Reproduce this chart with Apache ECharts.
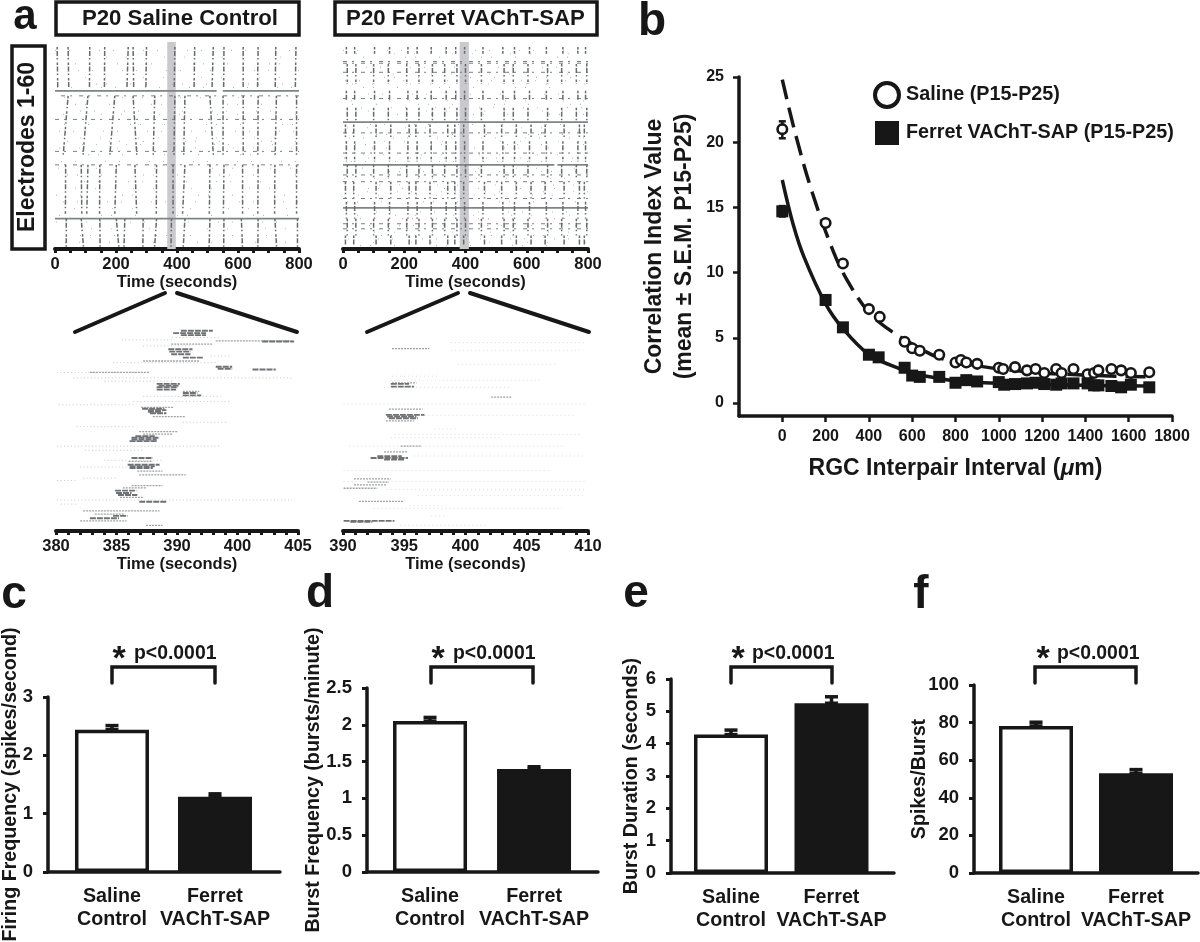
<!DOCTYPE html>
<html><head><meta charset="utf-8">
<style>html,body{margin:0;padding:0;background:#fff}#c{width:1200px;height:942px}</style>
<script src="https://cdn.jsdelivr.net/npm/echarts@6/dist/echarts.min.js"></script>
</head><body><div id="c"></div>
<script>
// ---------- DATA: panel b ----------
const salinePoints=[[0,21],[200,13.8],[280,10.7],[400,7.2],[450,6.6],[565,4.7],[600,4.2],[635,4.0],[725,3.7],[800,3.1],[825,3.3],[850,3.1],[900,3.0],[1000,2.7],[1020,2.6],[1075,2.75],[1130,2.5],[1170,2.6],[1210,2.3],[1265,2.6],[1290,2.3],[1345,2.6],[1410,2.2],[1440,2.3],[1460,2.5],[1520,2.6],[1565,2.5],[1610,2.3],[1695,2.35]];
const ferretPoints=[[0,14.7],[200,7.9],[280,5.8],[400,3.7],[445,3.5],[565,2.7],[600,2.1],[635,2.0],[725,2.0],[800,1.55],[850,1.75],[900,1.65],[1000,1.6],[1025,1.4],[1075,1.45],[1130,1.5],[1170,1.55],[1210,1.45],[1265,1.4],[1290,1.5],[1345,1.5],[1410,1.5],[1440,1.35],[1460,1.35],[1520,1.3],[1565,1.2],[1610,1.4],[1695,1.2]];
const salineFit=[[0,24.8],[58,20.8],[139,16.1],[236,11.6],[300,9.4],[397,7.0],[495,5.6],[624,4.3],[720,3.5],[882,2.9],[1125,2.4],[1448,2.1],[1690,2.0]];
const ferretFit=[[0,17.1],[50,13.7],[100,11.2],[200,7.6],[280,5.7],[400,3.7],[500,2.9],[600,2.3],[700,1.95],[800,1.7],[1000,1.5],[1200,1.4],[1400,1.35],[1690,1.3]];
const salineZeroError=[0,20.3,21.6];
const ferretZeroError=[0,14.3,15.1];
const bTicksX=[0,200,400,600,800,1000,1200,1400,1600,1800];
const bTicksY=[0,5,10,15,20,25];

// ---------- DATA: bar panels c-f ----------
const barCategories=['Saline\nControl','Ferret\nVAChT-SAP'];
const firingFrequency=[2.44,1.29], firingFrequencyTop=[2.51,1.34];
const burstFrequency=[2.05,1.40], burstFrequencyTop=[2.10,1.43];
const burstDuration=[4.28,5.25], burstDurationTop=[4.42,5.45];
const spikesPerBurst=[78.2,53], spikesPerBurstTop=[80.2,55];

// ---------- DATA: overview rasters (seconds, electrode) ----------
const overviewLabels=[0,200,400,600,800];
const overviewMinor=[0,50,100,150,200,250,300,350,400,450,500,550,600,650,700,750,800];
const salineBand=[368,396], ferretBand=[381,411];
const salineBlock1=[[7,9],[43,45],[114,113],[163,162],[240,236],[256,258],[300,298],[393,391],[458,456],[519,515],[554,553],[617,617],[666,664],[724,722],[790,788]];
const salineBlock2=[[43,27],[108,92],[196,180],[256,268],[327,322],[393,390],[426,422],[508,519],[551,551],[617,617],[666,665],[726,722],[792,792]];
const salineBlock3=[[35,34],[86,88],[108,104],[147,146],[201,196],[262,268],[333,332],[387,387],[426,418],[508,506],[554,552],[615,615],[666,665],[721,720],[792,792]];
const salineBlock4=[[37,37],[86,94],[147,148],[201,210],[229,226],[289,288],[333,326],[382,380],[426,420],[508,505],[554,553],[611,615],[666,665],[721,727],[795,795]];
const salineSolidRows=[[14,0,530],[14,550,800],[52,0,800]];
const salineDashRows=[[22.5,0,800],[32,0,800],[36,0,370],[36,380,800],[15.5,20,800]];
const salineDotRows=[2,4,6,8,10,12,13,16,18,20,21,24,26,28,29,30,31,33,35,37,39,41,43,45,47,49,51,53,55,57,59];

const ferretTimesA=[11,38,103,152,212,242,288,337,368,397,457,522,560,609,664,718,767,792];
const ferretTimesB=[14,42,100,148,208,248,292,332,372,400,452,526,556,604,668,714,762,796];
const ferretTimesC=[8,35,108,156,216,238,284,342,365,394,462,518,566,614,660,722,772,788];
const ferretBlocksA=[[1,3],[14,17],[29,35],[47,52]];
const ferretBlocksB=[[6,12],[19,23],[36,40],[52,57]];
const ferretBlocksC=[[24,28],[41,46],[57,60]];
const ferretSolidRows=[[23.3,0,800],[36,0,690],[36,700,800],[48.8,0,800]];
const ferretDashRows=[[5.3,0,800],[5.8,0,800],[8.5,0,800],[16.3,0,800],[26.5,0,800],[32.5,0,800],[39,0,800],[41,0,800],[46,0,800],[53.5,0,800],[55,0,800]];
const ferretDotRows=[2,3,4,7,9,10,11,12,13,15,17,18,19,20,21,24,25,27,28,29,30,31,33,34,35,37,38,40,42,43,44,45,47,50,51,52,54,56,57,58,59,60];

// ---------- DATA: expanded rasters ----------
const zoomLabelsSaline=['380','385','390','400','405'];
const zoomPositionsSaline=[380,386.25,392.5,398.75,405];
const zoomMinorSaline=[380,381.25,382.5,383.75,385,386.25,387.5,388.75,390,391.25,392.5,393.75,395,396.25,397.5,398.75,400,401.25,402.5,403.75,405];
const zoomLabelsFerret=['390','395','400','405','410'];
const zoomPositionsFerret=[390,395,400,405,410];
const zoomMinorFerret=[390,391,392,393,394,395,396,397,398,399,400,401,402,403,404,405,406,407,408,409,410];
const zoomSalineDark=[[392.9,396.2,1.5],[392.1,395.5,2.2],[392.9,395.5,2.8],[401.3,404.6,4.7],[391.6,394.1,7],[391.7,393.9,7.7],[391.9,393.9,8.5],[393.1,395.2,9.5],[396.5,398.2,12.2],[396.7,398.2,12.8],[400.3,402.7,13],[390.4,392.8,17.3],[390.4,392.6,18.3],[390.4,392.4,19],[390.6,392.7,17.8],[393.1,395,20.7],[393.1,394.6,20],[389.5,391.4,25.1],[389.7,391.4,26],[389.5,391,25.6],[388.9,391.2,24.7],[387.8,390.7,33.3],[387.6,390.4,34.3],[387.8,390.4,33.8],[388.2,390.2,32.8],[387.8,390,39.3],[387.4,390.7,41.3],[387.6,390,42.3],[387.6,390.2,41.8],[386.1,388.3,49],[386.2,387.8,49.7],[386.4,388.4,50.3],[388.6,391.4,52.3],[385.9,387.4,56.5],[383.5,386.5,57.2]];
const zoomSalineMid=[[391.9,396.2,5.5],[396.5,404.4,4.5],[389,394.8,10.5],[383.5,389.7,13.9],[393.1,394.8,19.5],[388.8,392.1,24.3],[390,393.4,27],[389,392.1,32.2],[388.6,392.6,31.5],[388.6,393.4,44.3],[387.8,391,47.5],[386.6,389,51],[382.8,390.7,55],[382.5,387.3,58],[389.3,391,59.3],[388.4,391,43.2],[387.5,390,40.3],[386.9,389.4,48.2],[384,387,56]];
const zoomSalineLight=[[386.8,392.1,4.2],[385.9,396.5,11],[380.1,389.7,13.9],[381.8,404.4,15.5],[388,397.9,22.5],[380.3,388,23.5],[393.1,397.6,28.7],[382.1,388,30],[380.1,396.9,35.8],[382.5,387.3,42],[382.8,386.2,45.3],[380.1,404.4,51.8],[380.1,382,46],[380.5,382.2,53],[389,394,6],[392,397,3.5],[396,398,9],[385,392,16.5],[389,397,21],[383,389,37],[385,391,40]];
const zoomFerretDark=[[393.9,395.8,18.1],[393.9,395.4,17.3],[393.5,396.65,26.5],[393.75,396.1,27.5],[393.6,396,27],[392.25,395.3,39.3],[393.35,395,39.8],[392.8,394.8,38.8],[390.05,394.2,58],[390.6,392.4,58.3]];
const zoomFerretMid=[[394,397.05,6.8],[402.1,403.8,21.2],[393.75,396.5,24.8],[393.5,395.8,28.3],[394.7,396.4,35.8],[393.35,395.3,37.5],[390.9,393.9,45.5],[392,393.75,46.5],[390.9,393.6,47.3],[390.05,392.8,48.3],[391.3,395,52.2],[394,396,17]];
const zoomFerretLight=[[398.8,409.8,5],[398.8,409.5,7.3],[399.4,407.35,11.5],[394,397.75,15],[393.9,406.25,16.2],[393.35,403.6,18.3],[390.05,409.8,23.3],[396.65,409,26.7],[397.45,399.4,30.7],[394.2,409.5,32.3],[393.9,402.95,33.3],[390.5,408.15,35.8],[395.8,409.8,38.7],[390.05,407.05,43],[390.05,409.8,46.3],[393.6,409.8,48.7],[396.1,409.8,50.5],[395.4,398.3,53.5],[392.5,407.9,54.3],[397.2,398.3,56.5],[394.7,401.85,59.3]];

// ---------- rendering config ----------
const INK='#171717', FONT='"Liberation Sans",Arial,sans-serif';
const tones=[
 {c:'#666b6c',w:1.5,d:[2.5,1.5,5,2,1.5,3]},   // wavefront
 {c:'#7d8587',w:1.7,d:null},      // persistent row
 {c:'#7a7f80',w:1,d:[4,5,2,7]},   // dashed row
 {c:'#b4b6b6',w:1,d:[1,13,1,29]}, // sparse rows
 {c:'#6f7274',w:1.9,d:[6,1]},     // zoom dark
 {c:'#a0a2a4',w:1.3,d:[2,1]},     // zoom mid
 {c:'#c8c8c8',w:1,d:[1,2.5]},     // zoom light
 {c:'#dcdcdc',w:1,d:[1,3]},       // zoom faint
 {c:'#bcbebe',w:1,d:[1,19,1,37]}, // sparser rows
 {c:'#aaacac',w:1,d:[1,9,1,23,1,41]} // mixed rows
];
const dotTones=[3,8,9];
function wave(list,e0,e1){return list.map(p=>[p[0],e0,p[1],e1,0,0]);}
function rows(list,t){return list.map(r=>[r[1],r[0],r[2],r[0],t,0]);}
function dots(list,a,b){return list.map((e,k)=>[a,e,b,e,dotTones[k%3],k*7]);}
function zrows(list,t){return list.map(r=>[r[0],r[2],r[1],r[2],t,0]);}
function blocks(times,bs){const out=[];bs.forEach(b=>times.forEach(t=>out.push([t,b[0],t,b[1],0,0])));return out;}

const salineSegs=[].concat(dots(salineDotRows,0,800),rows(salineDashRows,2),rows(salineSolidRows,1),
 wave(salineBlock1,1,13),wave(salineBlock2,15.5,33),wave(salineBlock3,36,51),wave(salineBlock4,52,61));
const ferretSegs=[].concat(dots(ferretDotRows,0,800),rows(ferretDashRows,2),rows(ferretSolidRows,1),
 blocks(ferretTimesA,ferretBlocksA),blocks(ferretTimesB,ferretBlocksB),blocks(ferretTimesC,ferretBlocksC));
const zoomSalineSegs=[].concat(zrows(zoomSalineLight,6),zrows(zoomSalineMid,5),zrows(zoomSalineDark,4));
const zoomFerretSegs=[].concat(zrows(zoomFerretLight,7),zrows(zoomFerretMid,5),zrows(zoomFerretDark,4));

function rasterItem(params,api){
  const a=api.coord([api.value(0),api.value(1)]),b=api.coord([api.value(2),api.value(3)]),t=tones[api.value(4)];
  return {type:'line',shape:{x1:a[0],y1:a[1],x2:b[0],y2:b[1]},style:{stroke:t.c,lineWidth:t.w,lineDash:t.d,lineDashOffset:api.value(5),fill:null}};
}
function bandItem(params,api){
  const a=api.coord([api.value(0),0]),b=api.coord([api.value(1),0]),s=params.coordSys;
  return {type:'rect',shape:{x:a[0],y:s.y,width:b[0]-a[0],height:s.height},style:{fill:'#c9c9ce'}};
}
function errItem(capW,lw){return function(params,api){
  const x=api.value(0),lo=api.coord([x,api.value(1)]),hi=api.coord([x,api.value(2)]);
  const st={stroke:INK,lineWidth:lw,fill:null};
  return {type:'group',children:[
   {type:'line',shape:{x1:lo[0],y1:lo[1],x2:hi[0],y2:hi[1]},style:st},
   {type:'line',shape:{x1:hi[0]-capW/2,y1:hi[1],x2:hi[0]+capW/2,y2:hi[1]},style:st},
   {type:'line',shape:{x1:lo[0]-capW/2,y1:lo[1],x2:lo[0]+capW/2,y2:lo[1]},style:st}]};
};}

const grid=[],xAxis=[],yAxis=[],series=[];
function addGrid(box){grid.push({left:box[0],top:box[1],width:box[2],height:box[3],outerBoundsMode:'none'});}
function rasterPanel(box,xmin,xmax,labelPos,labelText,minor,segs,band){
  const i=grid.length;
  addGrid(box);
  xAxis.push({gridIndex:i,type:'value',min:xmin,max:xmax,name:'Time (seconds)',nameLocation:'middle',nameGap:25,
    nameTextStyle:{color:INK,fontFamily:FONT,fontWeight:'bold',fontSize:16.5},
    axisLine:{show:true,onZero:false,lineStyle:{color:INK,width:4}},
    axisTick:{show:true,customValues:minor,length:4,lineStyle:{color:INK,width:3}},
    splitLine:{show:false},
    axisLabel:{customValues:labelPos,margin:7,color:INK,fontFamily:FONT,fontWeight:'bold',fontSize:16.5,
      formatter:v=>labelText[labelPos.indexOf(v)]}});
  yAxis.push({gridIndex:i,type:'value',min:-0.5,max:61,inverse:true,show:false});
  if(band) series.push({type:'custom',xAxisIndex:i,yAxisIndex:i,silent:true,renderItem:bandItem,data:[band],encode:{x:[0,1]},z:1});
  series.push({type:'custom',xAxisIndex:i,yAxisIndex:i,silent:true,renderItem:rasterItem,data:segs,encode:{x:[0,2],y:[1,3]},z:2});
}
rasterPanel([55,42,244,207],0,800,overviewLabels,overviewLabels.map(String),overviewMinor,salineSegs,salineBand);
rasterPanel([343,42,245,207],0,800,overviewLabels,overviewLabels.map(String),overviewMinor,ferretSegs,ferretBand);
rasterPanel([56,324,242,207],380,405,zoomPositionsSaline,zoomLabelsSaline,zoomMinorSaline,zoomSalineSegs,null);
rasterPanel([343,324,245,207],390,410,zoomPositionsFerret,zoomLabelsFerret,zoomMinorFerret,zoomFerretSegs,null);

// panel b
(function(){
  const i=grid.length;
  addGrid([739,77,433,339]);
  xAxis.push({gridIndex:i,type:'value',min:-200,max:1800,name:'RGC Interpair Interval ({i|μ}m)',nameLocation:'middle',nameGap:41,
    nameTextStyle:{color:INK,fontFamily:FONT,fontWeight:'bold',fontSize:23,rich:{i:{color:INK,fontFamily:FONT,fontWeight:'bold',fontStyle:'italic',fontSize:23}}},
    axisLine:{show:true,onZero:false,lineStyle:{color:INK,width:3.5}},
    axisTick:{show:true,customValues:bTicksX,length:6,lineStyle:{color:INK,width:2.5}},splitLine:{show:false},
    axisLabel:{customValues:bTicksX,margin:13,color:INK,fontFamily:FONT,fontWeight:'bold',fontSize:16,formatter:v=>String(v)}});
  yAxis.push({gridIndex:i,type:'value',min:-1,max:25,name:'Correlation Index Value\n(mean ± S.E.M. P15-P25)',nameLocation:'middle',nameGap:39,nameMoveOverlap:false,
    nameTextStyle:{color:INK,fontFamily:FONT,fontWeight:'bold',fontSize:23,lineHeight:30},
    axisLine:{show:true,onZero:false,lineStyle:{color:INK,width:3.5}},
    axisTick:{show:true,customValues:bTicksY,length:6,lineStyle:{color:INK,width:2.5}},splitLine:{show:false},
    axisLabel:{customValues:bTicksY,margin:15,color:INK,fontFamily:FONT,fontWeight:'bold',fontSize:16}});
  series.push({type:'line',name:'Saline fit',xAxisIndex:i,yAxisIndex:i,data:salineFit,smooth:0.35,symbol:'none',lineStyle:{color:INK,width:3.5,type:[20,9]},z:3});
  series.push({type:'line',name:'Ferret fit',xAxisIndex:i,yAxisIndex:i,data:ferretFit,smooth:0.35,symbol:'none',lineStyle:{color:INK,width:3.5},z:3});
  series.push({type:'custom',xAxisIndex:i,yAxisIndex:i,silent:true,renderItem:errItem(7,2.5),data:[salineZeroError,ferretZeroError],encode:{x:0,y:[1,2]},z:4});
  series.push({type:'scatter',name:'Saline (P15-P25)',xAxisIndex:i,yAxisIndex:i,data:salinePoints,symbol:'circle',symbolSize:9.5,itemStyle:{color:'#fff',borderColor:INK,borderWidth:2.6,opacity:1},z:5});
  series.push({type:'scatter',name:'Ferret VAChT-SAP (P15-P25)',xAxisIndex:i,yAxisIndex:i,data:ferretPoints,symbol:'rect',symbolSize:12,itemStyle:{color:INK,opacity:1},z:6});
})();

// bars
function barPanel(box,xr,ymax,yint,values,tops,title){
  const i=grid.length;
  addGrid(box);
  const pos=barCategories.map((c,k)=>k);
  xAxis.push({gridIndex:i,type:'value',min:xr[0],max:xr[1],
    axisLine:{show:true,onZero:false,lineStyle:{color:INK,width:3.5}},axisTick:{show:false},splitLine:{show:false},
    axisLabel:{customValues:pos,margin:13,color:INK,fontFamily:FONT,fontWeight:'bold',fontSize:19.7,lineHeight:23,
      formatter:v=>barCategories[v]}});
  yAxis.push({gridIndex:i,type:'value',min:0,max:ymax,interval:yint,name:title,nameLocation:'middle',nameGap:box[4],nameMoveOverlap:false,
    nameTextStyle:{color:INK,fontFamily:FONT,fontWeight:'bold',fontSize:19.7},
    axisLine:{show:true,onZero:false,lineStyle:{color:INK,width:3.5}},
    axisTick:{show:true,length:5,lineStyle:{color:INK,width:3}},splitLine:{show:false},
    axisLabel:{margin:15,color:INK,fontFamily:FONT,fontWeight:'bold',fontSize:18.5}});
  series.push({type:'custom',xAxisIndex:i,yAxisIndex:i,silent:true,renderItem:errItem(13,3.5),
    data:values.map((v,k)=>[k,v,tops[k]]),encode:{x:0,y:[1,2]},z:2});
  series.push({type:'bar',xAxisIndex:i,yAxisIndex:i,barWidth:74,silent:true,z:3,
    data:values.map((v,k)=>({value:[k,v],itemStyle:{color:k?INK:'#fff',borderColor:INK,borderWidth:3.5}}))});
}
barPanel([48,697,232,175,27],[-0.621,1.631],3,1,firingFrequency,firingFrequencyTop,'Firing Frequency (spikes/second)');
barPanel([367,688,231,184,43],[-0.606,1.615],2.5,0.5,burstFrequency,burstFrequencyTop,'Burst Frequency (bursts/minute)');
barPanel([671,679,223,194,29],[-0.597,1.622],6,1,burstDuration,burstDurationTop,'Burst Duration (seconds)');
barPanel([974,685,224,188,44],[-0.62,1.62],100,20,spikesPerBurst,spikesPerBurstTop,'Spikes/Burst');

// annotation graphics
const g=[];
function txt(s,x,y,size,align,rot){g.push({type:'text',x:x,y:y,rotation:rot||0,silent:true,z:20,
  style:{text:s,fill:INK,fontFamily:FONT,fontWeight:'bold',fontSize:size,align:align||'center',verticalAlign:'middle'}});}
function box(x,y,w,h){g.push({type:'rect',silent:true,z:19,shape:{x:x,y:y,width:w,height:h},style:{fill:'#fff',stroke:INK,lineWidth:3.5}});}
function seg(pts,w){g.push({type:'polyline',silent:true,z:19,shape:{points:pts},style:{stroke:INK,lineWidth:w,fill:null,lineCap:'round',lineJoin:'miter'}});}
box(56,2,243,33); txt('P20 Saline Control',180,19,22.2);
box(335,2,262,33); txt('P20 Ferret VAChT-SAP',465.5,19,22.2);
box(12,46,33,203); txt('Electrodes 1-60',28,147,23,'center',Math.PI/2);
txt('a',25,17,42);
[['b',652,22],['c',14,595],['d',320,594],['e',636,594],['f',921,595]].forEach(a=>txt(a[0],a[1],a[2],46));
seg([[75,332],[165,293]],4); seg([[177,293],[297,332]],4);
seg([[367,332],[458,293]],4); seg([[470,293],[589,332]],4);
[[112,215,119,134],[431,533,438,453],[731,832,738,752],[1035,1136,1043,1057]].forEach(b=>{
  seg([[b[0],683],[b[0],667],[b[1],667],[b[1],683]],3.5);
  txt('*',b[2],660,34); txt('p<0.0001',b[3],654,19.4,'left');
});

const chart=echarts.init(document.getElementById('c'),null,{renderer:'canvas'});
chart.setOption({
  backgroundColor:'#fff',animation:false,tooltip:{show:false},
  legend:{data:[
      {name:'Saline (P15-P25)',icon:'circle',itemStyle:{color:'#fff',borderColor:INK,borderWidth:4}},
      {name:'Ferret VAChT-SAP (P15-P25)',icon:'rect',itemStyle:{color:INK,borderWidth:0}}],
    orient:'vertical',left:868,top:76,itemWidth:24,itemHeight:24,itemGap:12,selectedMode:false,
    textStyle:{color:INK,fontFamily:FONT,fontWeight:'bold',fontSize:19.8,padding:[0,0,0,2]}},
  grid,xAxis,yAxis,series,graphic:g
});
</script></body></html>
